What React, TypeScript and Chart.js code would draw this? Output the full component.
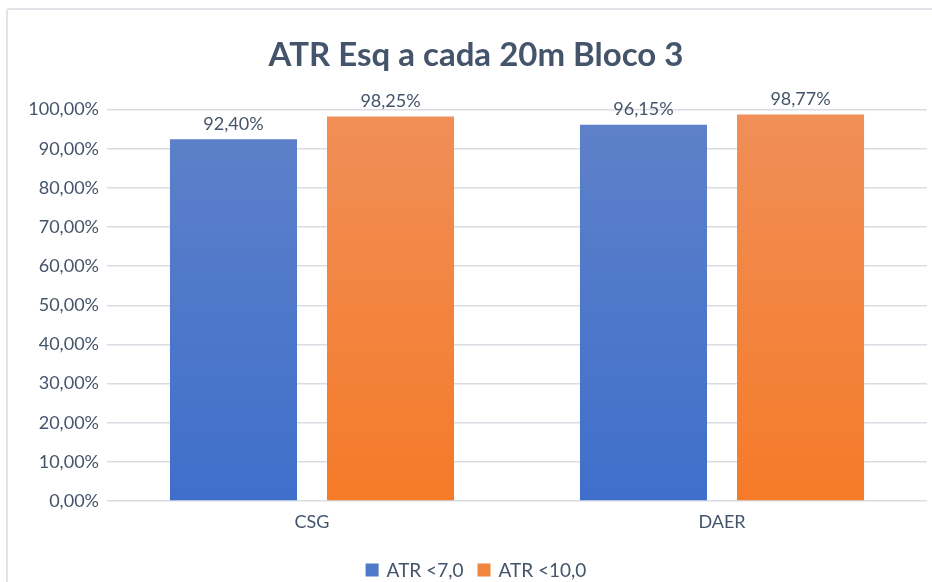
import React, { useEffect, useRef } from "react";
import { Chart, registerables } from "chart.js";

Chart.register(...registerables);

const categories = ["CSG", "DAER"];
const seriesNames = ["ATR <7,0", "ATR <10,0"];
const atr7 = [92.4, 96.15];
const atr10 = [98.25, 98.77];
const yTicks = [0, 10, 20, 30, 40, 50, 60, 70, 80, 90, 100];
const titleText = "ATR Esq a cada 20m Bloco 3";

const TEXT = "#44546a";
const FONT = "Lato, 'Open Sans', sans-serif";
const SWATCH = ["#4f78c8", "#f3863f"];

const fmt = (v: number) => v.toFixed(2).replace(".", ",") + "%";

function grad(chart: any, top: string, bottom: string) {
  const area = chart.chartArea;
  if (!area) return bottom;
  const g = chart.ctx.createLinearGradient(0, area.top, 0, area.bottom);
  g.addColorStop(0, top);
  g.addColorStop(1, bottom);
  return g;
}

const labelPlugin = {
  id: "barLabels",
  afterDatasetsDraw(chart: any) {
    const ctx = chart.ctx;
    ctx.save();
    ctx.fillStyle = TEXT;
    ctx.font = `18px ${FONT}`;
    ctx.textAlign = "center";
    ctx.textBaseline = "bottom";
    chart.data.datasets.forEach((ds: any, i: number) => {
      const meta = chart.getDatasetMeta(i);
      meta.data.forEach((bar: any, j: number) => {
        ctx.fillText(fmt(ds.data[j]), bar.x, bar.y - 6);
      });
    });
    ctx.restore();
  },
};

const legendPlugin = {
  id: "customLegend",
  afterDraw(chart: any) {
    const ctx = chart.ctx;
    ctx.save();
    ctx.font = `19px ${FONT}`;
    ctx.textBaseline = "middle";
    ctx.textAlign = "left";
    const box = 13;
    const gapText = 8;
    const gapItem = 14;
    const names = chart.data.datasets.map((d: any) => d.label);
    const widths = names.map((n: string) => box + gapText + ctx.measureText(n).width);
    const total = widths.reduce((a: number, b: number) => a + b, 0) + gapItem * (names.length - 1);
    let x = chart.width / 2 - total / 2;
    const cy = 570;
    names.forEach((n: string, i: number) => {
      ctx.fillStyle = SWATCH[i];
      ctx.fillRect(x, cy - box / 2, box, box);
      ctx.fillStyle = TEXT;
      ctx.fillText(n, x + box + gapText, cy + 1);
      x += widths[i] + gapItem;
    });
    ctx.restore();
  },
};

export default function App() {
  const ref = useRef<HTMLCanvasElement>(null);
  useEffect(() => {
    document.body.style.margin = "0";
    document.body.style.overflow = "hidden";
    const chart = new Chart(ref.current!, {
      type: "bar",
      data: {
        labels: categories,
        datasets: [
          {
            label: seriesNames[0],
            data: atr7,
            backgroundColor: (c: any) => grad(c.chart, "#5f81c9", "#3f6fcb"),
            categoryPercentage: 0.766,
            barPercentage: 0.809,
          },
          {
            label: seriesNames[1],
            data: atr10,
            backgroundColor: (c: any) => grad(c.chart, "#f08f58", "#f57a28"),
            categoryPercentage: 0.766,
            barPercentage: 0.809,
          },
        ],
      },
      options: {
        animation: false,
        responsive: false,
        maintainAspectRatio: false,
        layout: { padding: { left: 25, right: 25, top: 0, bottom: 26 } },
        scales: {
          x: {
            grid: { display: false },
            border: { display: false },
            afterFit: (s: any) => {
              s.height = 55;
            },
            ticks: { color: TEXT, font: { family: FONT, size: 18 }, padding: 2 },
          },
          y: {
            min: 0,
            max: 100,
            afterBuildTicks: (s: any) => {
              s.ticks = yTicks.map((v) => ({ value: v }));
            },
            afterFit: (s: any) => {
              s.width = 82;
            },
            grid: { color: "#d9dde3", lineWidth: 1.5, drawTicks: false },
            border: { display: false },
            ticks: {
              color: TEXT,
              font: { family: FONT, size: 18 },
              padding: 8,
              callback: (v: any) => fmt(Number(v)),
            },
          },
        },
        plugins: {
          title: {
            display: true,
            text: titleText,
            color: TEXT,
            font: { family: FONT, size: 33, weight: "bold" },
            padding: { top: 36, bottom: 34 },
          },
          legend: { display: false },
          tooltip: { enabled: false },
        },
      },
      plugins: [labelPlugin, legendPlugin],
    });
    return () => chart.destroy();
  }, []);
  return (
    <div style={{ position: "fixed", left: 0, top: 0, width: 932, height: 582, overflow: "hidden", background: "#fff" }}>
      <div
        style={{
          position: "absolute",
          left: 6,
          top: 8,
          width: 960,
          height: 600,
          border: "2px solid #e1e4e9",
          borderRadius: 3,
          boxSizing: "border-box",
        }}
      />
      <canvas ref={ref} width={952} height={582} style={{ position: "absolute", left: 0, top: 0, width: 952, height: 582 }} />
    </div>
  );
}
